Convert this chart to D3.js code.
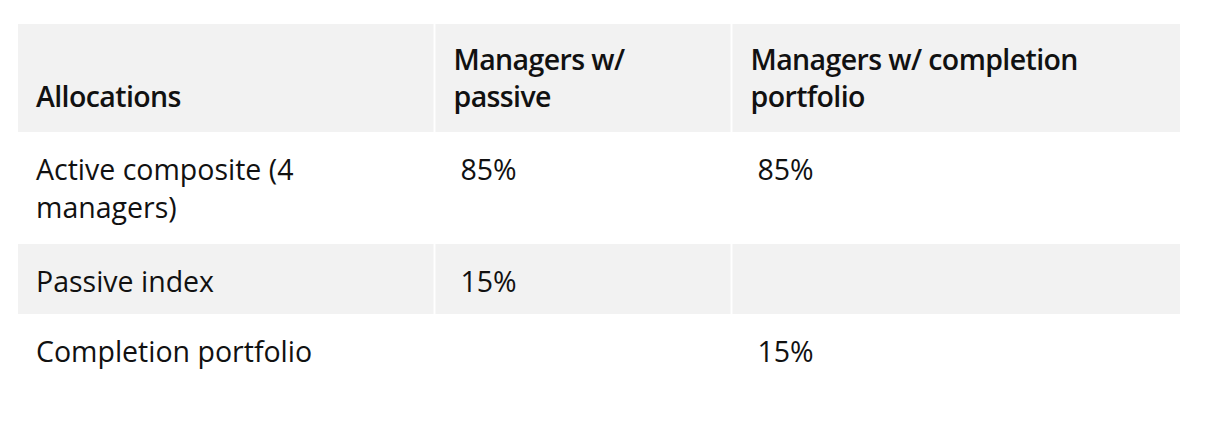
<!DOCTYPE html>
<html>
<head>
<meta charset="utf-8">
<script src="https://cdn.jsdelivr.net/npm/d3@7"></script>
<style>
  html, body { margin: 0; padding: 0; background: #fff; }
  svg text { font-family: "Open Sans", "Noto Sans", sans-serif; fill: #111; }
  .head { font-weight: 600; font-size: 28.5px; letter-spacing: -0.6px; }
  .cell { font-size: 28.5px; }
</style>
</head>
<body>
<div id="chart"></div>
<script>
// table content
const headers = ["Allocations", "Managers w/\npassive", "Managers w/ completion\nportfolio"];
const rowLabels = ["Active composite (4\nmanagers)", "Passive index", "Completion portfolio"];
const withPassive = ["85%", "15%", ""];
const withCompletion = ["85%", "", "15%"];

const width = 1214, height = 430;
const tableLeft = 18, tableTop = 24;
const colWidths = [416.5, 297, 448.5];   // 2px white gutter included at each join
const headerH = 108;
const lineH = 38, headLineH = 37;

const svg = d3.select("#chart").append("svg")
  .attr("width", width)
  .attr("height", height);

const colX = d3.cumsum([tableLeft, ...colWidths]);   // column edges
const rows = rowLabels.map((label, i) => ({
  cells: [label, withPassive[i], withCompletion[i]],
  lines: label.split("\n").length,
  shaded: i % 2 === 1
}));

// row heights grow with the number of wrapped lines
const rowH = d => 70 + (d.lines - 1) * 42;
const rowY = d3.cumsum([tableTop + headerH, ...rows.map(rowH)]);

// shaded cell, leaving a 1px white edge on each inner join
function cellRect(g, c, y, h) {
  g.append("rect")
    .attr("x", colX[c] + (c > 0 ? 1 : 0))
    .attr("y", y)
    .attr("width", colWidths[c] - (c > 0 ? 1 : 0) - (c < colWidths.length - 1 ? 1 : 0))
    .attr("height", h)
    .attr("fill", "#f2f2f2");
}

function multiLine(g, cls, x, y, str, step) {
  const t = g.append("text").attr("class", cls).attr("x", x).attr("y", y);
  str.split("\n").forEach((p, k) => {
    t.append("tspan")
      .attr("x", x)
      .attr("dy", k === 0 ? 0 : step)
      .text(p);
  });
}

// header band, text sits on the bottom of the cell
const head = svg.append("g");
headers.forEach((h, c) => {
  cellRect(head, c, tableTop, headerH);
  const n = h.split("\n").length;
  multiLine(head, "head", colX[c] + (c === 0 ? 18 : 19),
    tableTop + headerH - 25 - (n - 1) * headLineH, h, headLineH);
});

// body rows, text sits on the top of the cell
rows.forEach((r, i) => {
  const g = svg.append("g");
  r.cells.forEach((v, c) => {
    if (r.shaded) cellRect(g, c, rowY[i], rowH(r));
    multiLine(g, "cell", colX[c] + (c === 0 ? 18 : 26), rowY[i] + 48, v, lineH);
  });
});
</script>
</body>
</html>
